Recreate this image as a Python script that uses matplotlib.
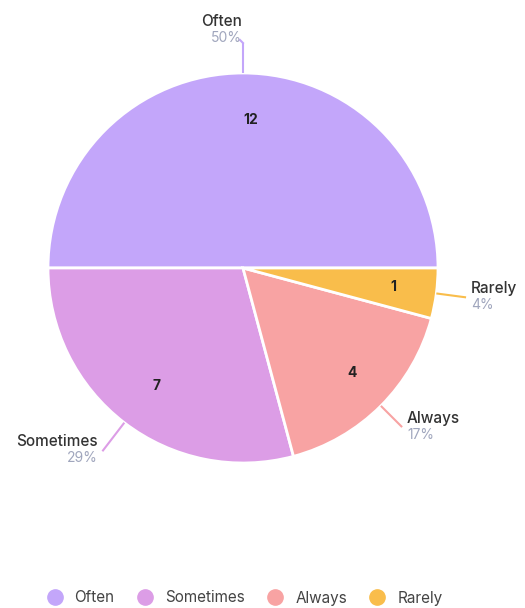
import numpy as np
import matplotlib
matplotlib.use("Agg")
import matplotlib.pyplot as plt
from matplotlib.lines import Line2D

plt.rcParams['font.family'] = ['Inter', 'DejaVu Sans']

labels = ["Often", "Sometimes", "Always", "Rarely"]
counts = [12, 7, 4, 1]
colors = ["#c3a6fa", "#dc9de6", "#f8a3a3", "#f9bd4b"]

W, H = 525, 608
fig = plt.figure(figsize=(W / 100, H / 100), dpi=100)
ax = fig.add_axes([0, 0, 1, 1])
ax.set_xlim(0, W)
ax.set_ylim(0, H)
ax.set_aspect("equal")
ax.axis("off")

cx, cy, r = 243, H - 268, 195
wedges, texts = ax.pie(counts, colors=colors, startangle=0, counterclock=True,
                       center=(cx, cy), radius=r, labels=[str(c) for c in counts],
                       labeldistance=0.76,
                       wedgeprops=dict(edgecolor="white", linewidth=2),
                       textprops=dict(fontsize=10, fontweight="bold", color="#222222"))
ax.set_xlim(0, W)
ax.set_ylim(0, H)

total = sum(counts)
# leader line lengths and text placement per slice
ext = [30, 36, 30, 30]
for w, lab, c, col, e in zip(wedges, labels, counts, colors, ext):
    ang = np.deg2rad((w.theta1 + w.theta2) / 2)
    x0, y0 = cx + r * np.cos(ang), cy + r * np.sin(ang)
    x1, y1 = cx + (r + e) * np.cos(ang), cy + (r + e) * np.sin(ang)
    ax.plot([x0, x1], [y0, y1], color=col, lw=1.5, solid_capstyle="butt")
    pct = f"{round(100 * c / total)}%"
    if abs(np.cos(ang)) < 0.1:
        ax.plot([x1, x1 - 3], [y1, y1 + 3], color=col, lw=1.5)
        tx, ha, ty = x1 - 1, "right", y1 + 22
    elif np.cos(ang) > 0:
        tx, ha, ty = x1 + 5, "left", y1 + 9
    else:
        tx, ha, ty = x1 - 5, "right", y1 + 10
    ax.text(tx, ty, lab, ha=ha, va="center", fontsize=11, fontweight="medium", color="#333333")
    ax.text(tx, ty - 17, pct, ha=ha, va="center", fontsize=10, color="#a0a6bd")

handles = [Line2D([], [], marker="o", linestyle="none", markersize=11,
                  markerfacecolor=c, markeredgecolor=c) for c in colors]
fig.legend(handles, labels, loc="center", bbox_to_anchor=(241 / W, 1 - 598 / H),
           ncol=4, frameon=False, fontsize=11, handletextpad=0.3,
           columnspacing=1.0, labelcolor="#444444")

fig.savefig("out.png", dpi=100)
